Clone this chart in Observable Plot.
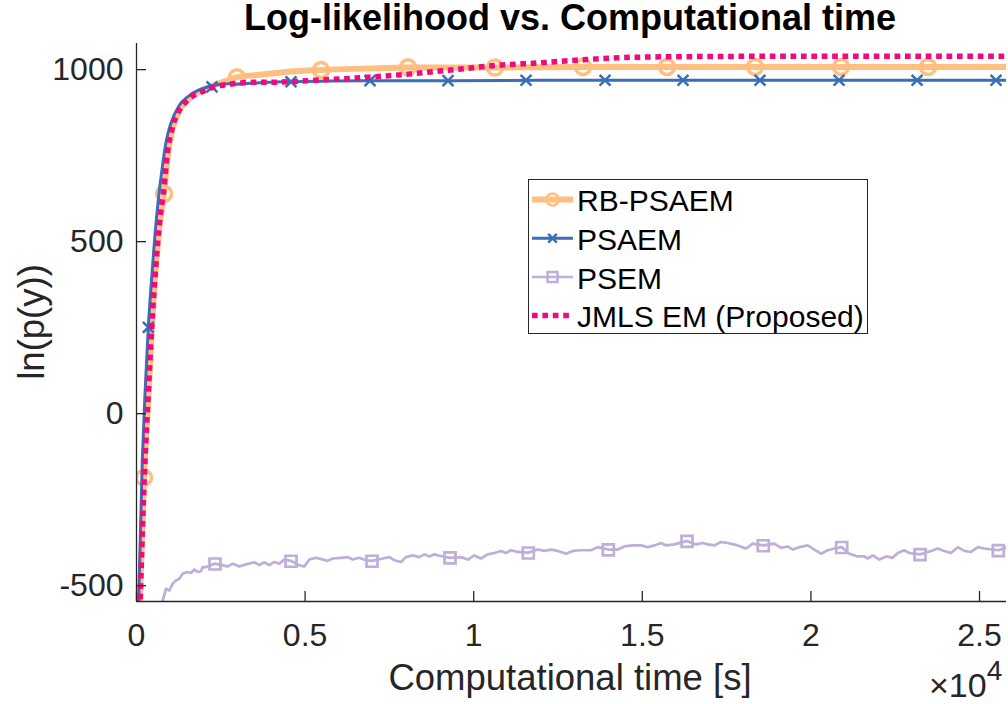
<!DOCTYPE html>
<html><head><meta charset="utf-8">
<script src="https://cdn.jsdelivr.net/npm/d3@7"></script>
<script src="https://cdn.jsdelivr.net/npm/@observablehq/plot@0.6"></script>
<style>
body{margin:0;background:#fff;}
#wrap{position:relative;width:1008px;height:704px;overflow:hidden;background:#fff;}
#wrap svg{position:absolute;left:0;top:0;}
</style></head><body><div id="wrap"></div>
<script>
// ---- data (time in seconds, log-likelihood) ----
const xTicks = [0, 5000, 10000, 15000, 20000, 25000];
const yTicks = [-500, 0, 500, 1000];
const xDomain = [0, 25800];
const yDomain = [-546, 1076];

const seriesNames = ["RB-PSAEM", "PSAEM", "PSEM", "JMLS EM (Proposed)"];

const rbT = [90, 222, 350, 451, 569, 688, 816, 913, 1062, 1260, 1557, 2052, 2500, 2980, 3500, 3900, 4500, 5472, 6800, 8051, 10631, 13241, 16000, 20000, 25800];
const rbV = [-580, -186, 40, 240, 420, 550, 639, 740, 825, 878, 915, 945, 962, 978, 984, 988, 994, 999, 1003, 1006, 1006, 1008, 1008, 1008, 1008];
const rbMkT = [222, 816, 2980, 5472, 8051, 10631, 13241, 15733, 18343, 20893, 23473];
const rbMkV = [-186, 639, 978, 999, 1007, 1006, 1008, 1008, 1008, 1008, 1008];

const psaemT = [55, 172, 252, 350, 451, 549, 667, 765, 884, 1014, 1260, 1557, 2150, 2743, 3000, 3633, 4600, 6900, 9300, 12000, 16000, 20000, 25800];
const psaemV = [-580, -137, 57, 251, 396, 522, 639, 716, 794, 842, 895, 924, 951, 959, 958, 962, 965, 968, 968, 969, 969, 969, 969];
const psaemMkT = [350, 2239, 4582, 6925, 9238, 11551, 13894, 16207, 18491, 20834, 23147, 25489];
const psaemMkV = [251, 950, 965, 968, 968, 969, 969, 969, 969, 969, 969, 969];

const psemT = [740, 777, 875, 973, 1074, 1171, 1269, 1370, 1518, 1616, 1714, 1815, 1913, 1963, 2061, 2328, 2556, 2705, 2853, 3049, 3247, 3493, 3642, 3790, 3938, 4087, 4235, 4383, 4582, 4828, 4976, 5125, 5323, 5522, 5670, 5818, 6065, 6263, 6412, 6607, 6806, 6984, 7301, 7497, 7645, 7844, 7992, 8191, 8387, 8535, 8683, 8832, 8980, 9297, 9623, 9822, 10018, 10216, 10415, 10611, 10810, 10958, 11107, 11305, 11619, 11898, 12094, 12293, 12491, 12737, 12936, 13182, 13479, 13677, 13992, 14270, 14466, 14715, 14961, 15160, 15356, 15555, 15703, 15949, 16326, 16592, 16791, 16939, 17135, 17334, 17532, 17829, 18075, 18274, 18588, 18914, 19113, 19312, 19460, 19656, 19905, 20101, 20300, 20498, 20694, 20913, 21139, 21388, 21584, 21684, 21833, 22029, 22227, 22426, 22574, 22770, 22918, 23236, 23562, 23761, 23956, 24155, 24354, 24550, 24748, 24947, 25142, 25557, 25836];
const psemV = [-620, -543, -509, -514, -494, -485, -480, -465, -460, -463, -453, -460, -458, -446, -446, -436, -441, -444, -436, -444, -438, -432, -440, -432, -440, -431, -436, -424, -428, -441, -444, -424, -419, -424, -428, -421, -419, -417, -424, -419, -426, -428, -421, -417, -426, -431, -417, -412, -417, -409, -415, -409, -413, -419, -417, -424, -412, -421, -409, -405, -399, -405, -397, -402, -404, -395, -399, -395, -399, -407, -399, -397, -397, -388, -395, -395, -386, -383, -383, -388, -383, -376, -383, -380, -370, -380, -376, -380, -383, -373, -376, -383, -392, -378, -383, -378, -390, -386, -395, -388, -383, -395, -407, -397, -392, -388, -407, -415, -415, -421, -412, -424, -415, -419, -405, -397, -405, -409, -399, -392, -399, -405, -388, -399, -402, -388, -392, -397, -388];
const psemMkT = [2328, 4582, 6984, 9297, 11619, 13992, 16326, 18588, 20913, 23236, 25557];
const psemMkV = [-437, -429, -429, -419, -405, -396, -371, -384, -389, -410, -398];

const jmlsT = [100, 252, 350, 451, 569, 688, 816, 913, 1062, 1260, 1557, 2052, 2300, 2645, 3425, 3900, 5472, 6865, 8051, 9327, 10631, 12000, 13271, 14754, 16740, 19706, 25800];
const jmlsV = [-570, -137, 57, 251, 425, 561, 658, 755, 832, 881, 915, 940, 950, 956, 963, 963, 970, 978, 987, 999, 1012, 1020, 1029, 1036, 1038, 1039, 1039];

// ---- styles ----
const cOrange = "#FFBF80", cBlue = "#3A6EB5", cLav = "#BEAED9", cPink = "#F00A7F", cAxis = "#262626";
const FONT = "'Liberation Sans', Arial, Helvetica, sans-serif";

const rows = (t, v) => t.map((d, i) => ({x: d, y: v[i]}));

const chart = Plot.plot({
  width: 1008, height: 704,
  marginLeft: 136, marginRight: 2, marginTop: 43, marginBottom: 103,
  x: {domain: xDomain},
  y: {domain: yDomain},
  style: {fontFamily: FONT, fontSize: "32px", color: cAxis, background: "transparent", overflow: "visible"},
  marks: [
    Plot.line(rows(rbT, rbV), {x: "x", y: "y", stroke: cOrange, strokeWidth: 6, curve: "monotone-x", clip: true}),
    Plot.dot(rows(rbMkT, rbMkV), {x: "x", y: "y", r: 7.5, stroke: cOrange, strokeWidth: 3.5, fill: "none", clip: true}),
    Plot.line(rows(psaemT, psaemV), {x: "x", y: "y", stroke: cBlue, strokeWidth: 3, curve: "monotone-x", clip: true}),
    Plot.dot(rows(psaemMkT, psaemMkV), {x: "x", y: "y", symbol: "times", r: 5, stroke: cBlue, strokeWidth: 2.5, clip: true}),
    Plot.line(rows(psemT, psemV), {x: "x", y: "y", stroke: cLav, strokeWidth: 2.7, clip: true}),
    Plot.dot(rows(psemMkT, psemMkV), {x: "x", y: "y", symbol: "square", r: 6.2, stroke: cLav, strokeWidth: 2.7, fill: "none", clip: true}),
    Plot.line(rows(jmlsT, jmlsV), {x: "x", y: "y", stroke: cPink, strokeWidth: 5.5, strokeDasharray: "5.7,4.7", strokeLinecap: "butt", curve: "monotone-x", clip: true}),
    Plot.axisX({ticks: xTicks, tickFormat: d => String(d / 10000), tickSize: -10, tickPadding: 32, label: null, stroke: cAxis, strokeWidth: 1.3, fontSize: 32}),
    Plot.axisY({ticks: yTicks, tickFormat: d => String(d), tickSize: -10, tickPadding: 23, label: null, stroke: cAxis, strokeWidth: 1.3, fontSize: 32}),
    Plot.ruleX([xDomain[0]], {stroke: cAxis, strokeWidth: 1.3}),
    Plot.ruleY([yDomain[0]], {stroke: cAxis, strokeWidth: 1.3})
  ]
});
const wrap = document.getElementById("wrap");
wrap.appendChild(chart);

// ---- overlay: title, axis labels, exponent, legend ----
const ov = d3.select(wrap).append("svg").attr("width", 1008).attr("height", 704)
  .style("font-family", FONT).style("pointer-events", "none");

ov.append("text").attr("x", 570).attr("y", 30).attr("text-anchor", "middle")
  .attr("font-weight", "bold").attr("font-size", 36).attr("fill", "#000")
  .text("Log-likelihood vs. Computational time");
ov.append("text").attr("x", 570).attr("y", 690).attr("text-anchor", "middle")
  .attr("font-size", 36.5).attr("fill", cAxis).text("Computational time [s]");
ov.append("text").attr("transform", "translate(44,322) rotate(-90)").attr("text-anchor", "middle")
  .attr("font-size", 36.5).attr("fill", cAxis).text("ln(p(y))");
const ex = ov.append("text").attr("x", 929).attr("y", 697).attr("font-size", 34).attr("fill", cAxis);
ex.append("tspan").text("\u00d710");
ex.append("tspan").attr("dy", -17).attr("font-size", 28).text("4");

// legend
const lg = ov.append("g");
lg.append("rect").attr("x", 528.5).attr("y", 179.5).attr("width", 339).attr("height", 154)
  .attr("fill", "#fff").attr("stroke", cAxis).attr("stroke-width", 1);
const legendStyle = [
  {stroke: cOrange, w: 6, dash: null, sym: "circle"},
  {stroke: cBlue, w: 3, dash: null, sym: "times"},
  {stroke: cLav, w: 2.7, dash: null, sym: "square"},
  {stroke: cPink, w: 5.5, dash: "5.7,4.7", sym: null}
];
const rowY = [199.5, 238.3, 277, 315.5];
seriesNames.forEach((name, i) => {
  const s = legendStyle[i], y = rowY[i];
  const g = lg.append("g");
  g.append("line").attr("x1", 532).attr("x2", 573).attr("y1", y).attr("y2", y)
    .attr("stroke", s.stroke).attr("stroke-width", s.w).attr("stroke-dasharray", s.dash);
  if (s.sym === "circle") g.append("circle").attr("cx", 552.5).attr("cy", y).attr("r", 6).attr("fill", "none").attr("stroke", s.stroke).attr("stroke-width", 2.5);
  if (s.sym === "times") g.append("path").attr("d", d3.symbol(d3.symbolTimes, Math.PI * 16)()).attr("transform", `translate(552.5,${y})`).attr("fill", "none").attr("stroke", s.stroke).attr("stroke-width", 2.5);
  if (s.sym === "square") g.append("rect").attr("x", 552.5 - 5).attr("y", y - 5).attr("width", 10).attr("height", 10).attr("fill", "none").attr("stroke", s.stroke).attr("stroke-width", 2.5);
  g.append("text").attr("x", 577).attr("y", y + 11.5).attr("font-size", 30).attr("fill", "#000").text(name);
});
</script></body></html>
